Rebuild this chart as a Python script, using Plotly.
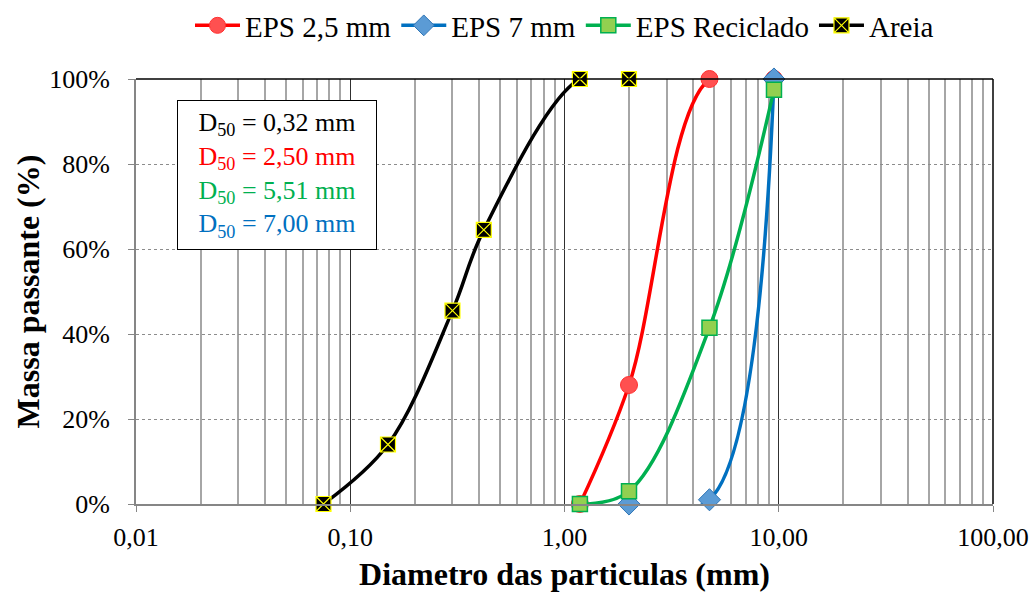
import plotly.graph_objects as go

# ---- data ----
sieve_eps = [1.18, 2.0, 4.75, 9.5]
eps_25 = [0, 28, 100, 100]
eps_7 = [None, 0, 1, 100]
eps_rec = [0, 3, 41.5, 97.5]

sieve_areia = [0.075, 0.15, 0.3, 0.42, 1.18, 2.0]
areia = [0, 14, 45.5, 64.5, 100, 100]

x_tickvals = [0.01, 0.1, 1, 10, 100]
x_ticktext = ["0,01", "0,10", "1,00", "10,00", "100,00"]
x_minorvals = [m * d for d in [0.01, 0.1, 1, 10] for m in range(2, 10)]
y_tickvals = [0, 20, 40, 60, 80, 100]
y_ticktext = ["0%", "20%", "40%", "60%", "80%", "100%"]

d50_labels = ["0,32", "2,50", "5,51", "7,00"]
d50_colors = ["#000000", "#FF0000", "#00B050", "#0070C0"]

FONT = "Liberation Serif, Times New Roman, serif"

fig = go.Figure()
fig.add_trace(go.Scatter(
    x=sieve_eps, y=eps_25, name="EPS 2,5 mm", mode="lines+markers",
    line=dict(color="#FF0000", width=3.5, shape="spline", smoothing=1),
    marker=dict(symbol="circle", size=17, color="#FF5050", line=dict(color="#FF3030", width=1)),
    cliponaxis=False))
fig.add_trace(go.Scatter(
    x=sieve_eps, y=eps_7, name="EPS 7 mm", mode="lines+markers",
    line=dict(color="#0070C0", width=3.5, shape="spline", smoothing=1),
    marker=dict(symbol="diamond", size=17, color="#5B9BD5", line=dict(color="#2E75B6", width=1)),
    cliponaxis=False))
fig.add_trace(go.Scatter(
    x=sieve_eps, y=eps_rec, name="EPS Reciclado", mode="lines+markers",
    line=dict(color="#00B050", width=3.5, shape="spline", smoothing=1),
    marker=dict(symbol="square", size=15, color="#92D050", line=dict(color="#00B050", width=1.5)),
    cliponaxis=False))
fig.add_trace(go.Scatter(
    x=sieve_areia, y=areia, name="Areia", mode="lines+markers",
    line=dict(color="#000000", width=3.5, shape="spline", smoothing=1),
    marker=dict(symbol="square-x", size=15, color="#000000", line=dict(color="#FFFF00", width=1.2)),
    cliponaxis=False))

ann_text = "<br>".join(
    f"<span style='color:{c}'>D<sub>50</sub> = {v} mm</span>" for v, c in zip(d50_labels, d50_colors))
fig.add_annotation(
    xref="paper", yref="paper", x=0.048, y=0.95, xanchor="left", yanchor="top",
    text=ann_text, showarrow=False, align="center", width=184,
    font=dict(family=FONT, size=26, color="#000000"),
    bgcolor="#FFFFFF", bordercolor="#000000", borderwidth=1, borderpad=7)

fig.add_shape(type="line", xref="paper", yref="paper", x0=0, x1=1, y0=1, y1=1,
              line=dict(color="#000000", width=1.5))
fig.add_shape(type="line", xref="paper", yref="paper", x0=1, x1=1, y0=0, y1=1,
              line=dict(color="#000000", width=1.5))

fig.update_layout(
    width=1032, height=592,
    margin=dict(l=136, r=39, t=79, b=88),
    paper_bgcolor="#FFFFFF", plot_bgcolor="#FFFFFF",
    font=dict(family=FONT, size=26, color="#000000"),
    showlegend=True,
    legend=dict(orientation="h", x=0.5, xanchor="center", y=1, yanchor="top", yref="container",
                font=dict(family=FONT, size=29), itemwidth=45, tracegroupgap=0,
                bgcolor="rgba(0,0,0,0)"),
    xaxis=dict(
        type="log", range=[-2, 2],
        tickmode="array", tickvals=x_tickvals, ticktext=x_ticktext,
        tickfont=dict(family=FONT, size=26), ticklabelstandoff=3,
        ticks="outside", ticklen=6, tickcolor="#868686",
        showline=True, linecolor="#868686", linewidth=2,
        showgrid=True, gridcolor="#303030", gridwidth=1,
        minor=dict(tickmode="array", tickvals=x_minorvals, showgrid=True,
                   gridcolor="#A6A6A6", gridwidth=1.5, ticks=""),
        title=dict(text="<b>Diametro das particulas (mm)</b>",
                   font=dict(family=FONT, size=32), standoff=16),
        zeroline=False, automargin=False),
    yaxis=dict(
        range=[0, 100],
        tickmode="array", tickvals=y_tickvals, ticktext=y_ticktext,
        tickfont=dict(family=FONT, size=26), ticklabelstandoff=13,
        ticks="outside", ticklen=6, tickcolor="#868686",
        showline=True, linecolor="#868686", linewidth=2,
        showgrid=True, gridcolor="#8C8C8C", gridwidth=1, griddash="dot",
        title=dict(text="<b>Massa passante (%)</b>",
                   font=dict(family=FONT, size=32), standoff=0),
        zeroline=False, automargin=False),
)

fig.write_html("out.html")
